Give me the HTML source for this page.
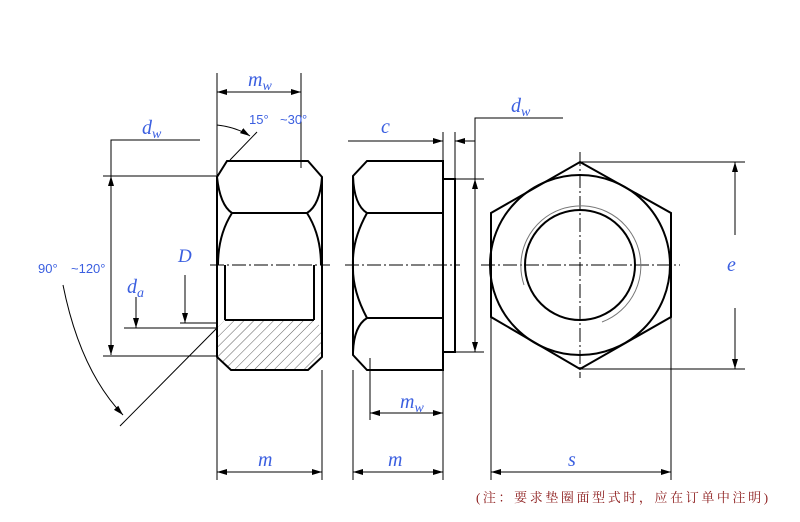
<!DOCTYPE html>
<html><head><meta charset="utf-8"><style>
html,body{margin:0;padding:0;background:#fff;}
svg{display:block}
.l{font-family:"Liberation Serif",serif;font-style:italic;fill:#3b5fe0;}
.s{font-family:"Liberation Sans",sans-serif;fill:#3b5fe0;font-size:13px;}
</style></head><body>
<svg width="800" height="522" viewBox="0 0 800 522" xmlns="http://www.w3.org/2000/svg">
<defs>
<marker id="a" viewBox="0 0 10 6" refX="10" refY="3" markerWidth="10" markerHeight="6" orient="auto-start-reverse" markerUnits="userSpaceOnUse"><path d="M0,0 L10,3 L0,6z" fill="#000"/></marker>
<pattern id="h" width="7" height="7" patternUnits="userSpaceOnUse" patternTransform="rotate(45)"><line x1="0" y1="0" x2="0" y2="7" stroke="#333" stroke-width="0.8"/></pattern>
</defs>
<g fill="none" stroke="#000" stroke-width="1">
<line x1="217" y1="73" x2="217" y2="480"/>
<line x1="301" y1="73" x2="301" y2="168"/>
<line x1="322" y1="370" x2="322" y2="480"/>
<line x1="217" y1="92" x2="301" y2="92" marker-start="url(#a)" marker-end="url(#a)"/>
<line x1="217" y1="472" x2="322" y2="472" marker-start="url(#a)" marker-end="url(#a)"/>
<path d="M217,125 Q236,127 250,136" marker-end="url(#a)"/>
<line x1="230" y1="160" x2="257" y2="132"/>
<polyline points="200,140 111,140 111,176"/>
<line x1="111" y1="176" x2="111" y2="355" marker-start="url(#a)" marker-end="url(#a)"/>
<line x1="103" y1="176" x2="217" y2="176"/>
<line x1="103" y1="356" x2="217" y2="356"/>
<line x1="124" y1="328" x2="217" y2="328"/>
<line x1="180" y1="323" x2="217" y2="323"/>
<line x1="136" y1="297" x2="136" y2="328" marker-end="url(#a)"/>
<line x1="185" y1="275" x2="185" y2="323" marker-end="url(#a)"/>
<path d="M63,285 Q80,370 123,415" marker-end="url(#a)"/>
<line x1="120" y1="426" x2="217" y2="328"/>
<line x1="210" y1="265" x2="330" y2="265" stroke-dasharray="14,3,2,3"/>
<path d="M225,320 L314,320 L322,328 L322,356 L308,370 L231,370 L217,356 L217,328Z" fill="url(#h)" stroke="none"/>
</g>
<g fill="none" stroke="#000" stroke-width="2">
<path d="M227,161 L308,161 L322,177 L322,357 L308,370 L231,370 L217,357 L217,177Z"/>
<path d="M217,177 Q220,205 232,213 L307,213 Q320,205 322,177"/>
<path d="M232,213 Q218,235 218,265"/>
<path d="M307,213 Q321,235 321,265"/>
<line x1="225" y1="265" x2="225" y2="320"/>
<line x1="314" y1="265" x2="314" y2="320"/>
<line x1="225" y1="320" x2="314" y2="320"/>
<path d="M367,161 L443,161 L443,370 L367,370 L353,355 L353,176Z"/>
<path d="M353,176 Q354,205 367,213 L443,213"/>
<path d="M367,213 Q352,240 353,265 Q352,290 367,318 L443,318"/>
<path d="M367,318 Q354,326 353,352"/>
<rect x="443" y="179" width="12" height="173"/>
<polygon points="580,162 671,213 671,317 580,369 491,317 491,213"/>
<circle cx="580" cy="265" r="90"/>
<circle cx="580" cy="265" r="55"/>
</g>
<g fill="none" stroke="#000" stroke-width="1">
<line x1="345" y1="265" x2="460" y2="265" stroke-dasharray="14,3,2,3"/>
<line x1="348" y1="141" x2="443" y2="141" marker-end="url(#a)"/>
<line x1="475" y1="141" x2="455" y2="141" marker-end="url(#a)"/>
<line x1="443" y1="132" x2="443" y2="161"/>
<line x1="455" y1="132" x2="455" y2="179"/>
<polyline points="563,118 475,118 475,179"/>
<line x1="475" y1="179" x2="475" y2="352" marker-start="url(#a)" marker-end="url(#a)"/>
<line x1="455" y1="179" x2="484" y2="179"/>
<line x1="455" y1="352" x2="484" y2="352"/>
<line x1="353" y1="370" x2="353" y2="480"/>
<line x1="443" y1="370" x2="443" y2="480"/>
<line x1="370" y1="358" x2="370" y2="420"/>
<line x1="370" y1="413" x2="443" y2="413" marker-start="url(#a)" marker-end="url(#a)"/>
<line x1="353" y1="472" x2="443" y2="472" marker-start="url(#a)" marker-end="url(#a)"/>
<line x1="481" y1="265" x2="680" y2="265" stroke-dasharray="14,3,2,3"/>
<line x1="580" y1="152" x2="580" y2="378" stroke-dasharray="14,3,2,3"/>
<path d="M524,285 A60,60 0 1 1 602,322" stroke="#777"/>
<line x1="580" y1="162" x2="745" y2="162"/>
<line x1="580" y1="369" x2="745" y2="369"/>
<line x1="735" y1="235" x2="735" y2="162" marker-end="url(#a)"/>
<line x1="735" y1="308" x2="735" y2="369" marker-end="url(#a)"/>
<line x1="491" y1="317" x2="491" y2="480"/>
<line x1="671" y1="317" x2="671" y2="480"/>
<line x1="491" y1="472" x2="671" y2="472" marker-start="url(#a)" marker-end="url(#a)"/>
</g>
<text class="l" x="248" y="86" font-size="20">m<tspan font-size="14" dy="4">w</tspan></text>
<text class="s" x="249" y="124">15°</text><text class="s" x="280" y="124">~30°</text>
<text class="l" x="142" y="134" font-size="20">d<tspan font-size="14" dy="4">w</tspan></text>
<text class="l" x="178" y="262" font-size="19">D</text>
<text class="l" x="127" y="293" font-size="20">d<tspan font-size="14" dy="4">a</tspan></text>
<text class="s" x="38" y="273">90°</text><text class="s" x="71" y="273">~120°</text>
<text class="l" x="258" y="466" font-size="20">m</text>
<text class="l" x="381" y="133" font-size="20">c</text>
<text class="l" x="511" y="112" font-size="20">d<tspan font-size="14" dy="4">w</tspan></text>
<text class="l" x="400" y="408" font-size="20">m<tspan font-size="14" dy="4">w</tspan></text>
<text class="l" x="388" y="466" font-size="20">m</text>
<text class="l" x="568" y="466" font-size="20">s</text>
<text class="l" x="727" y="271" font-size="20">e</text>
<text x="476" y="502" font-family="'Liberation Serif','Noto Serif CJK SC',serif" font-size="13" fill="#8b1a1a" letter-spacing="2.6">(注：要求垫圈面型式时，应在订单中注明)</text>
</svg>
</body></html>
